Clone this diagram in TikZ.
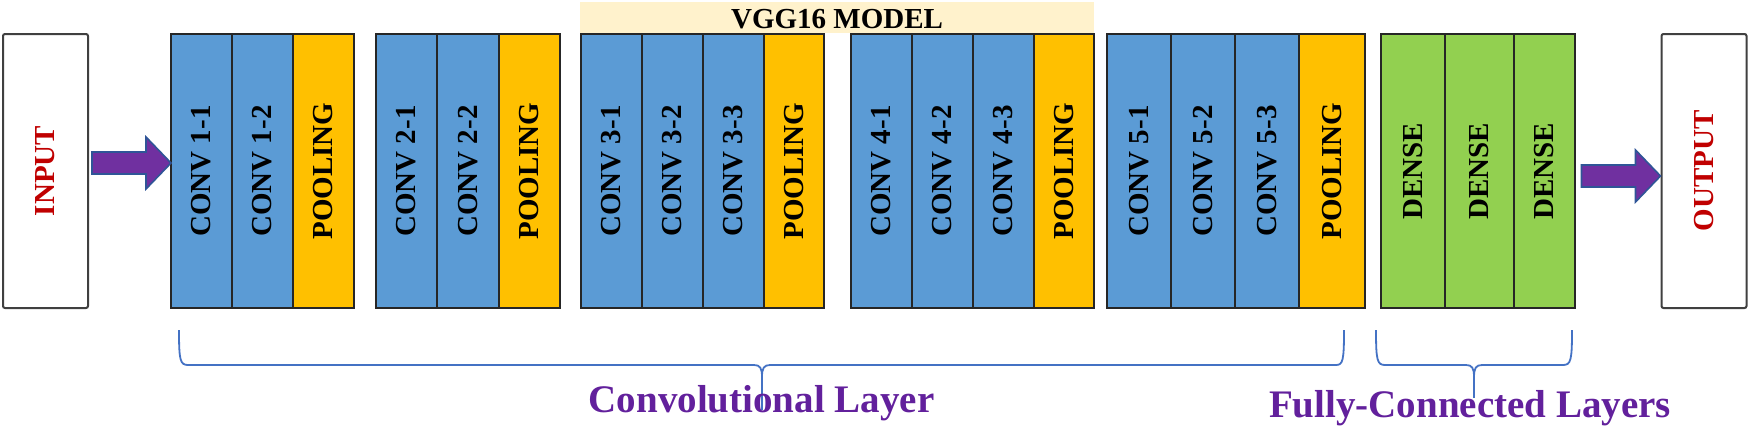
\documentclass[tikz,border=0pt]{standalone}
\usepackage{fontspec}
\setmainfont{Liberation Serif}
\usetikzlibrary{calc}
\definecolor{convblue}{HTML}{5B9BD5}
\definecolor{poolgold}{HTML}{FFC000}
\definecolor{densegreen}{HTML}{92D050}
\definecolor{bannercol}{HTML}{FFF2CC}
\definecolor{arrowpurple}{HTML}{7030A0}
\definecolor{arrowedge}{HTML}{2F5597}
\definecolor{bracecol}{HTML}{4472C4}
\definecolor{labelpurple}{HTML}{62209C}
\definecolor{iored}{HTML}{C00000}
\newcommand\layercol[5]{%
  \node[#1, minimum width={(#4-#3)*0.5pt}] (#2) at ({(#3+#4)/2},171) {\rotatebox{90}{#5}};}
\newcommand\blockarrow[1]{%
  \filldraw[bigarrow] (#1) -- ++(-25,-26) -- ++(0,15) -- ++(-54,0) -- ++(0,22) -- ++(54,0) -- ++(0,15) -- cycle;}
\begin{document}
\begin{tikzpicture}[x=0.5pt,y=-0.5pt,
  layer/.style={draw=black!85, line width=0.8pt, inner sep=0pt, outer sep=0pt,
     minimum height=137pt, font=\fontsize{14.5}{16}\selectfont\bfseries},
  convcol/.style={layer, fill=convblue},
  poolcol/.style={layer, fill=poolgold},
  densecol/.style={layer, fill=densegreen},
  iobox/.style={draw=black!75, line width=1pt, fill=white, rounded corners=1pt,
     inner sep=0pt, minimum width=42.5pt, minimum height=137pt,
     text=iored, font=\fontsize{14.5}{16}\selectfont\bfseries},
  bigarrow/.style={fill=arrowpurple, draw=arrowedge, line width=0.8pt, line join=miter},
  bracepath/.style={draw=bracecol, line width=0.9pt},
  grouplabel/.style={text=labelpurple, font=\fontsize{19.5}{22}\selectfont\bfseries, anchor=base, inner sep=0pt},
  banner/.style={fill=bannercol, inner sep=0pt, minimum width=257pt, minimum height=15.5pt}
]
\useasboundingbox (0,0) rectangle (1750,429);

% banner
\node[banner] (ban) at (837,17.5) {};
\node[anchor=base, inner sep=0pt, font=\fontsize{14.5}{16}\selectfont\bfseries] (bantext) at (837,28) {VGG16 MODEL};

% input / output
\node[iobox] (inp) at (45.5,171) {\rotatebox{90}{INPUT}};
\node[iobox] (outp) at (1704,171) {\rotatebox{90}{OUTPUT}};

% block 1
\layercol{convcol}{c11}{171}{232}{CONV 1-1}
\layercol{convcol}{c12}{232}{293}{CONV 1-2}
\layercol{poolcol}{p1}{293}{354}{POOLING}
% block 2
\layercol{convcol}{c21}{376}{437}{CONV 2-1}
\layercol{convcol}{c22}{437}{499}{CONV 2-2}
\layercol{poolcol}{p2}{499}{560}{POOLING}
% block 3
\layercol{convcol}{c31}{581}{642}{CONV 3-1}
\layercol{convcol}{c32}{642}{703}{CONV 3-2}
\layercol{convcol}{c33}{703}{764}{CONV 3-3}
\layercol{poolcol}{p3}{764}{824}{POOLING}
% block 4
\layercol{convcol}{c41}{851}{912}{CONV 4-1}
\layercol{convcol}{c42}{912}{973}{CONV 4-2}
\layercol{convcol}{c43}{973}{1034}{CONV 4-3}
\layercol{poolcol}{p4}{1034}{1094}{POOLING}
% block 5
\layercol{convcol}{c51}{1107}{1171}{CONV 5-1}
\layercol{convcol}{c52}{1171}{1235}{CONV 5-2}
\layercol{convcol}{c53}{1235}{1299}{CONV 5-3}
\layercol{poolcol}{p5}{1299}{1365}{POOLING}
% dense
\layercol{densecol}{d1}{1381}{1445}{DENSE}
\layercol{densecol}{d2}{1445}{1514}{DENSE}
\layercol{densecol}{d3}{1514}{1575}{DENSE}

% arrows
\coordinate (tip1) at ($(c11.west)+(0,-8)$);
\coordinate (tip2) at ($(outp.west)+(0,5)$);
\blockarrow{tip1}
\blockarrow{tip2}

% braces
\coordinate (cbl) at (179,330);
\coordinate (cbr) at (1344,330);
\coordinate (cbm) at (762,377);
\coordinate (cbs) at (762,410);
\draw[bracepath] (cbl) .. controls (179,360) and (180,365) .. (188,365) -- (754,365)
  .. controls (760,365) and (762,368) .. (cbm)
  .. controls (762,368) and (764,365) .. (770,365) -- (1336,365)
  .. controls (1343,365) and (1344,360) .. (cbr);
\draw[bracepath] (cbm) -- (cbs);

\coordinate (fbl) at (1376,330);
\coordinate (fbr) at (1572,330);
\coordinate (fbm) at (1474,377);
\coordinate (fbs) at (1474,398);
\draw[bracepath] (fbl) .. controls (1376,360) and (1377,365) .. (1385,365) -- (1466,365)
  .. controls (1472,365) and (1474,368) .. (fbm)
  .. controls (1474,368) and (1476,365) .. (1482,365) -- (1563,365)
  .. controls (1571,365) and (1572,360) .. (fbr);
\draw[bracepath] (fbm) -- (fbs);

% labels
\node[grouplabel] (convlab) at (761.5,412) {Convolutional Layer};
\node[grouplabel] (fclab) at (1470,417) {Fully-Connected Layers};
\end{tikzpicture}
\end{document}
